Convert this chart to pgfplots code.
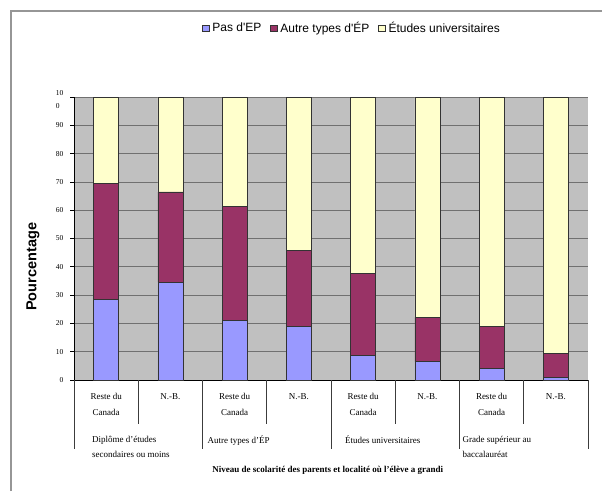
\documentclass[border=0pt]{standalone}
\usepackage{fontspec}
\setmainfont{Liberation Serif}
\newfontfamily\sansf{Liberation Sans}
\usepackage{pgfplots}
\pgfplotsset{compat=1.18}
\definecolor{cPas}{RGB}{153,153,255}
\definecolor{cAutre}{RGB}{153,51,102}
\definecolor{cEtu}{RGB}{255,255,204}
\definecolor{bgc}{RGB}{192,192,192}
\definecolor{gridc}{RGB}{112,112,112}
\definecolor{framec}{RGB}{150,150,150}
\definecolor{tablec}{RGB}{60,60,60}
\begin{document}
\begin{tikzpicture}
\useasboundingbox (0,0) rectangle (602pt,491pt);
\draw[framec, line width=1.5pt] (11pt,0) -- (11pt,480pt) -- (602pt,480pt);
\begin{axis}[
  at={(74pt,111pt)}, anchor=south west,
  scale only axis, width=514pt, height=283pt,
  ybar stacked, bar width=25pt,
  xmin=0, xmax=8, ymin=0, ymax=100,
  clip=false,
  axis background/.style={fill=bgc},
  axis x line*=bottom, axis y line*=left,
  axis line style={black, line width=0.8pt},
  ymajorgrids, grid style={gridc, line width=0.8pt},
  ytick={0,10,20,30,40,50,60,70,80,90,100},
  yticklabels={0,10,20,30,40,50,60,70,80,90,{\raisebox{-11pt}[0pt][0pt]{\shortstack[l]{10\\[4pt]0}}}},
  ytick align=outside, major tick length=4pt,
  y tick style={black, line width=0.8pt},
  yticklabel style={font=\fontsize{7.5}{9}\selectfont, xshift=-3pt},
  xtick={0.5,1.5,2.5,3.5,4.5,5.5,6.5,7.5},
  xticklabels={{Reste du\\Canada},{N.-B.},{Reste du\\Canada},{N.-B.},{Reste du\\Canada},{N.-B.},{Reste du\\Canada},{N.-B.}},
  x tick style={draw=none},
  xticklabel style={font=\fontsize{9}{16}\selectfont, align=center, anchor=north, yshift=-10pt},
  ylabel={Pourcentage},
  ylabel style={at={(rel axis cs:0,0.4)}, anchor=center, yshift=41pt, font=\sansf\bfseries\fontsize{14.5}{16}\selectfont},
  legend style={at={(0.541,1.244)}, anchor=center, draw=none, fill=none,
    legend columns=3, font=\sansf\fontsize{12}{14}\selectfont,
    /tikz/every odd column/.append style={column sep=1pt},
    /tikz/every even column/.append style={column sep=7pt}},
  legend image code/.code={\draw[#1, line width=0.6pt] (0pt,-3.5pt) rectangle (6.5pt,3pt);},
  every axis plot/.append style={draw=black!80, line width=0.6pt},
]
\addplot[fill=cPas] coordinates {(0.5,28.5) (1.5,34.6) (2.5,21.1) (3.5,18.8) (4.5,8.8) (5.5,6.5) (6.5,4.0) (7.5,0.8)};
\addplot[fill=cAutre] coordinates {(0.5,41.1) (1.5,31.9) (2.5,40.2) (3.5,27.0) (4.5,29.0) (5.5,15.6) (6.5,14.8) (7.5,8.6)};
\addplot[fill=cEtu] coordinates {(0.5,30.4) (1.5,33.5) (2.5,38.7) (3.5,54.2) (4.5,62.2) (5.5,77.9) (6.5,81.2) (7.5,90.6)};
\legend{Pas d'EP, Autre types d'ÉP, Études universitaires}
% table lines below the axis
\draw[tablec, line width=0.8pt] (axis cs:0,0) -- ++(0,-69pt);
\draw[tablec, line width=0.8pt] (axis cs:2,0) -- ++(0,-69pt);
\draw[tablec, line width=0.8pt] (axis cs:4,0) -- ++(0,-69pt);
\draw[tablec, line width=0.8pt] (axis cs:6,0) -- ++(0,-69pt);
\draw[tablec, line width=0.8pt] (axis cs:8,0) -- ++(0,-69pt);
\draw[tablec, line width=0.8pt] (axis cs:1,0) -- ++(0,-44pt);
\draw[tablec, line width=0.8pt] (axis cs:3,0) -- ++(0,-44pt);
\draw[tablec, line width=0.8pt] (axis cs:5,0) -- ++(0,-44pt);
\draw[tablec, line width=0.8pt] (axis cs:7,0) -- ++(0,-44pt);
\node[anchor=north west, align=left, inner sep=0pt, font=\fontsize{9}{15}\selectfont] at ([xshift=18pt,yshift=-56pt]axis cs:0,0) {Diplôme d'études\\secondaires ou moins};
\node[anchor=north west, align=left, inner sep=0pt, font=\fontsize{9}{15}\selectfont] at ([xshift=5pt,yshift=-56pt]axis cs:2,0) {Autre types d'ÉP};
\node[anchor=north west, align=left, inner sep=0pt, font=\fontsize{9}{15}\selectfont] at ([xshift=14pt,yshift=-56pt]axis cs:4,0) {Études universitaires};
\node[anchor=north west, align=left, inner sep=0pt, font=\fontsize{9}{15}\selectfont] at ([xshift=3pt,yshift=-56pt]axis cs:6,0) {Grade supérieur au\\baccalauréat};
\node[anchor=base, font=\bfseries\fontsize{9}{11}\selectfont] at ([yshift=-92pt]axis cs:3.95,0) {Niveau de scolarité des parents et localité où l'élève a grandi};
\end{axis}
\end{tikzpicture}
\end{document}
